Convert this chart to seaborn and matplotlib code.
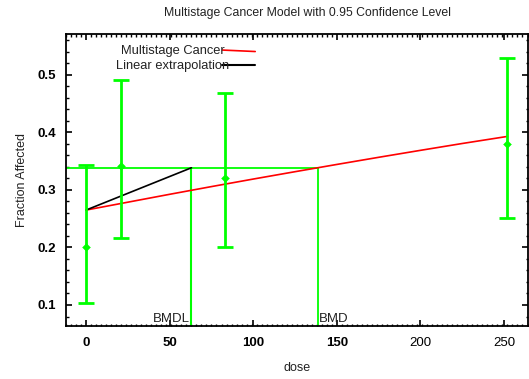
import matplotlib
matplotlib.use("Agg")
import matplotlib.pyplot as plt
import seaborn as sns
import pandas as pd
from matplotlib.ticker import MultipleLocator

# Data
dose = [0, 21, 83, 252]
frac_mean = [0.200, 0.342, 0.321, 0.380]
ci_low = [0.104, 0.217, 0.200, 0.252]
ci_high = [0.343, 0.491, 0.469, 0.530]

curve_dose = [0, 25, 50, 75, 100, 125, 150, 175, 200, 225, 252]
curve_frac = [0.265, 0.2787, 0.2924, 0.3058, 0.3189, 0.3317, 0.3443, 0.3567, 0.3688, 0.3807, 0.3930]

bmr_level = 0.3385
bmdl = 63
bmd = 138.5
background = 0.265

title = "Multistage Cancer Model with 0.95 Confidence Level"
x_label = "dose"
y_label = "Fraction Affected"
x_ticks = [0, 50, 100, 150, 200, 250]
y_ticks = [0.1, 0.2, 0.3, 0.4, 0.5]

sns.set_theme(style="white")
plt.rcParams["font.family"] = ["Liberation Sans", "DejaVu Sans"]

fig = plt.figure(figsize=(5.29, 3.79), dpi=100)
ax = fig.add_axes([66 / 529, 1 - 326 / 379, (527.5 - 66) / 529, (326 - 34) / 379])
ax.set_xlim(-12, 264)
ax.set_ylim(0.0635, 0.571)

green = "#00ff00"
txt = "#222222"

curve_df = pd.DataFrame({"dose": curve_dose, "frac": curve_frac})
sns.lineplot(data=curve_df, x="dose", y="frac", ax=ax, color="red", lw=1.2,
             legend=False)

lin_df = pd.DataFrame({"dose": [0, bmdl], "frac": [background, bmr_level]})
sns.lineplot(data=lin_df, x="dose", y="frac", ax=ax, color="black", lw=1.2,
             legend=False)

# BMR / BMD / BMDL guide lines
ax.plot([-12, bmd], [bmr_level, bmr_level], color=green, lw=1.3, zorder=1)
ax.plot([bmdl, bmdl], [0.0635, bmr_level], color=green, lw=1.5, zorder=1)
ax.plot([bmd, bmd], [0.0635, bmr_level], color=green, lw=1.3, zorder=1)

# error bars
err_low = [m - l for m, l in zip(frac_mean, ci_low)]
err_high = [h - m for m, h in zip(frac_mean, ci_high)]
ax.errorbar(dose, frac_mean, yerr=[err_low, err_high], fmt="none",
            ecolor=green, elinewidth=2, capsize=5.5, capthick=2, zorder=3)
pts = pd.DataFrame({"dose": dose, "frac": frac_mean})
sns.scatterplot(data=pts, x="dose", y="frac", ax=ax, color=green, marker="D",
                s=16, edgecolor=green, zorder=4, legend=False)

ax.text(bmdl - 1, 0.066, "BMDL", ha="right", va="bottom", fontsize=9.5, color=txt)
ax.text(bmd + 0.5, 0.066, "BMD", ha="left", va="bottom", fontsize=9.5, color=txt)

# legend-like labels
ax.text(0.345, 0.942, "Multistage Cancer", transform=ax.transAxes, ha="right",
        va="center", fontsize=9.3, color=txt)
ax.text(0.353, 0.89, "Linear extrapolation", transform=ax.transAxes, ha="right",
        va="center", fontsize=9.3, color=txt)
ax.plot([0.339, 0.41], [0.945, 0.940], transform=ax.transAxes, color="red", lw=1.2)
ax.plot([0.339, 0.41], [0.893, 0.893], transform=ax.transAxes, color="black", lw=1.5)

ax.set_xticks(x_ticks)
ax.set_yticks(y_ticks)
ax.set_xticklabels([str(t) for t in x_ticks], fontsize=9.5)
ax.set_yticklabels([str(t) for t in y_ticks], fontsize=9.5, fontweight="bold")
for lab in ax.get_xticklabels():
    if lab.get_text() in ("0", "50", "100", "150"):
        lab.set_fontweight("bold")
ax.xaxis.set_minor_locator(MultipleLocator(3))
ax.yaxis.set_minor_locator(MultipleLocator(0.02))
ax.tick_params(which="major", direction="in", length=4.5, width=1.2, top=True,
               right=True, bottom=True, left=True, pad=12, colors="black")
ax.tick_params(which="minor", direction="in", length=1.8, width=1.0, top=True,
               right=True, bottom=True, left=True, colors="black")
ax.tick_params(axis="y", pad=7)
ax.tick_params(axis="x", pad=8)

for s in ax.spines.values():
    s.set_color("black")
    s.set_linewidth(1.3)

ax.set_xlabel(x_label, fontsize=9, labelpad=9, color=txt)
ax.set_ylabel("")
fig.text(22 / 529, 1 - 180 / 379, y_label, rotation=90, ha="center", va="center",
         fontsize=9, color=txt)
fig.text(307 / 529, 1 - 13 / 379, title, ha="center", va="center", fontsize=8.8,
         color=txt)

fig.savefig("out.png", dpi=100)
